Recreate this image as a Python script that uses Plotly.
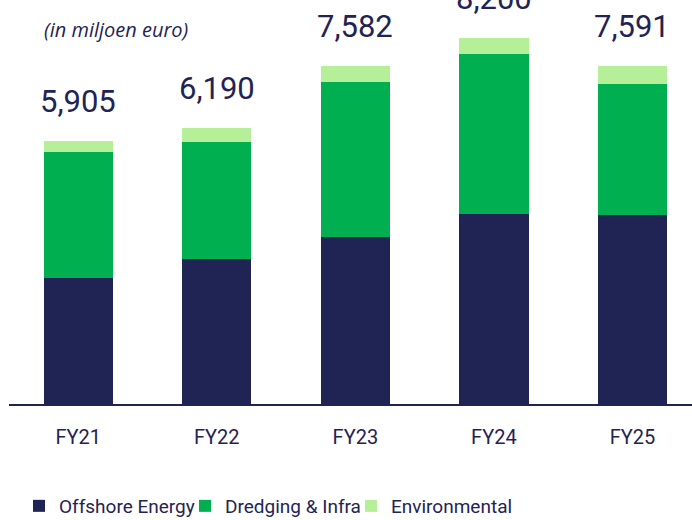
import plotly.graph_objects as go

years = ["FY21", "FY22", "FY23", "FY24", "FY25"]
offshore = [2822, 3259, 3753, 4262, 4239]
dredging = [2829, 2617, 3477, 3589, 2938]
environmental = [254, 314, 352, 349, 414]
totals = [5905, 6190, 7582, 8200, 7591]
total_labels = ["5,905", "6,190", "7,582", "8,200", "7,591"]

NAVY = "#1F2454"
GREEN = "#00B050"
LIGHT = "#B5EF97"
FONT = "Roboto"

fig = go.Figure()
for name, vals, col in [("Offshore Energy", offshore, NAVY),
                        ("Dredging & Infra", dredging, GREEN),
                        ("Environmental", environmental, LIGHT)]:
    fig.add_trace(go.Bar(x=years, y=vals, name=name, marker_color=col,
                         marker_line_width=0, width=0.5))

for yr, tot, lab in zip(years, totals, total_labels):
    fig.add_annotation(x=yr, y=tot, text=lab, showarrow=False,
                       yanchor="bottom", yshift=19,
                       font=dict(family=FONT, size=31, color=NAVY))

fig.add_annotation(xref="paper", yref="paper", x=(42 - 9) / 683, y=0.927,
                   xanchor="left", yanchor="middle", showarrow=False,
                   text="<i>(in miljoen euro)</i>",
                   font=dict(family="Open Sans", size=20, color=NAVY))

fig.update_layout(
    width=692, height=520,
    margin=dict(l=9, r=0, t=0, b=116),
    barmode="stack",
    plot_bgcolor="white", paper_bgcolor="white",
    showlegend=True,
    legend=dict(orientation="h", xref="container", yref="container",
                x=19 / 692, y=(520 - 506) / 520, xanchor="left", yanchor="middle",
                font=dict(family=FONT, size=19, color=NAVY),
                entrywidth=121, entrywidthmode="pixels",
                itemclick=False, traceorder="normal"),
    font=dict(family=FONT, color=NAVY),
)
fig.update_xaxes(range=[-0.5, 4.43], showline=True, linecolor=NAVY, linewidth=2,
                 ticks="", ticklabelstandoff=14,
                 tickfont=dict(family=FONT, size=20, color=NAVY), showgrid=False)
fig.update_yaxes(range=[0, 9062], visible=False, showgrid=False)

fig.write_html("out.html", config={"displayModeBar": False},
               post_script="document.body.style.margin='0';")
